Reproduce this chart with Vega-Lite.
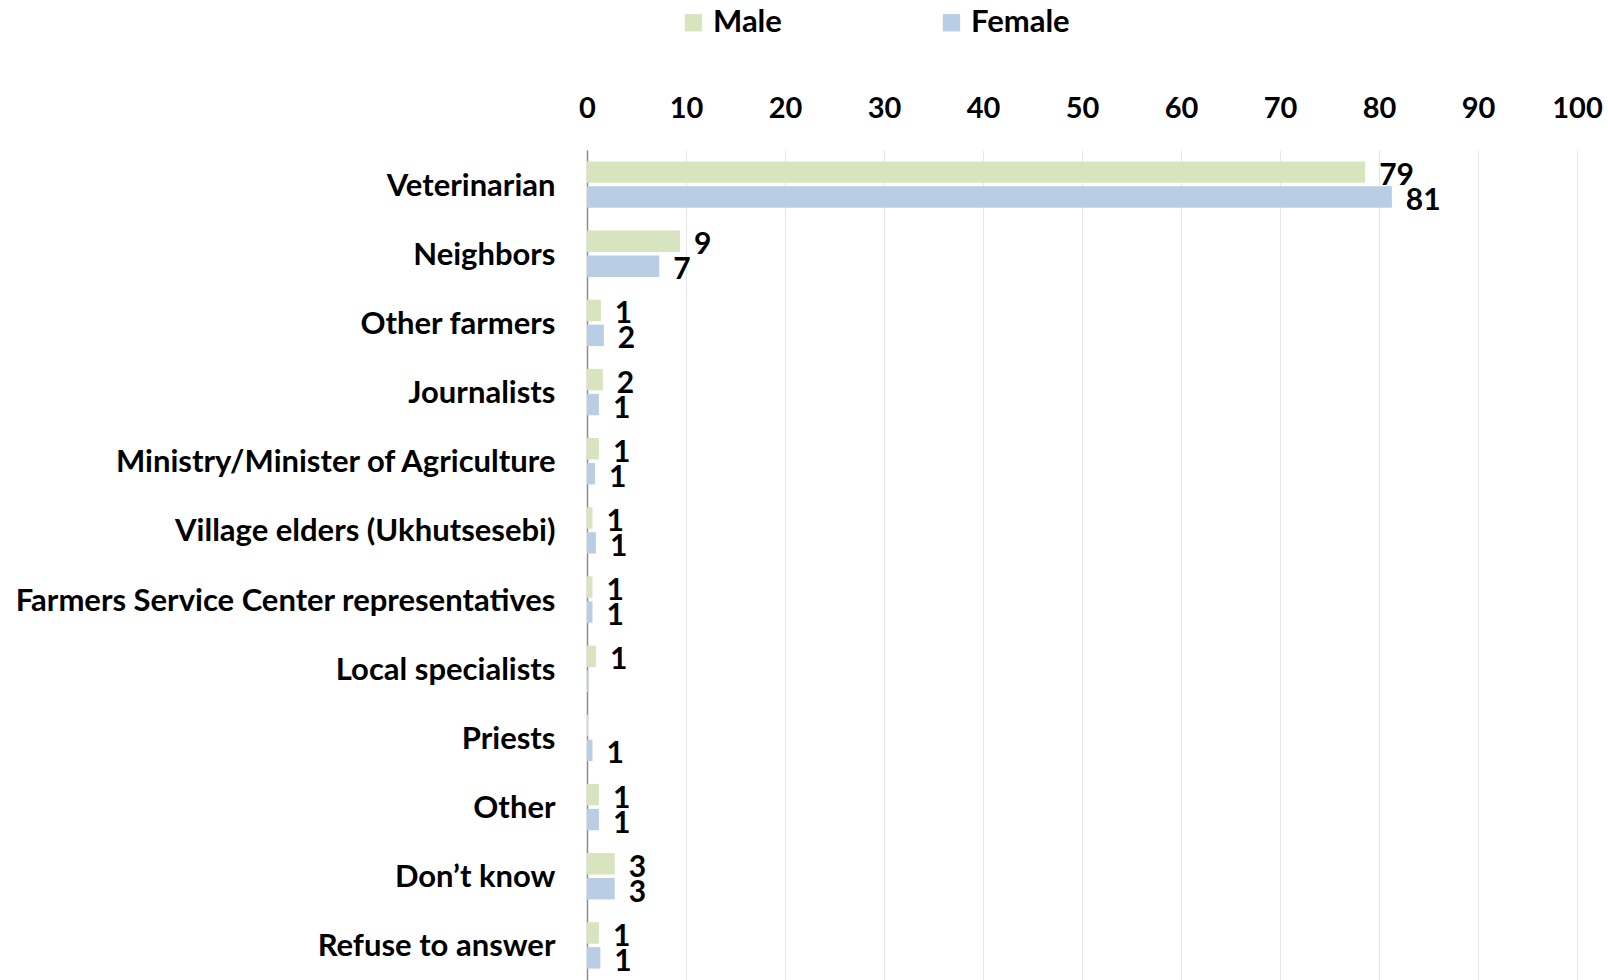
{
  "$schema": "https://vega.github.io/schema/vega-lite/v6.json",
  "width": 990,
  "height": 830,
  "autosize": {"type": "none"},
  "padding": {"left": 587, "top": 150, "right": 31, "bottom": 0},
  "background": "white",
  "config": {
    "view": {"stroke": null},
    "font": "Lato",
    "axis": {"labelFont": "Lato", "labelFontWeight": "bold", "labelColor": "#000000"}
  },
  "data": {
    "values": [
      {"source": "Veterinarian", "gender": "Male", "value": 78.6},
      {"source": "Veterinarian", "gender": "Female", "value": 81.3},
      {"source": "Neighbors", "gender": "Male", "value": 9.4},
      {"source": "Neighbors", "gender": "Female", "value": 7.3},
      {"source": "Other farmers", "gender": "Male", "value": 1.4},
      {"source": "Other farmers", "gender": "Female", "value": 1.7},
      {"source": "Journalists", "gender": "Male", "value": 1.6},
      {"source": "Journalists", "gender": "Female", "value": 1.2},
      {"source": "Ministry/Minister of Agriculture", "gender": "Male", "value": 1.2},
      {"source": "Ministry/Minister of Agriculture", "gender": "Female", "value": 0.8},
      {"source": "Village elders (Ukhutsesebi)", "gender": "Male", "value": 0.55},
      {"source": "Village elders (Ukhutsesebi)", "gender": "Female", "value": 0.9},
      {"source": "Farmers Service Center representatives", "gender": "Male", "value": 0.55},
      {"source": "Farmers Service Center representatives", "gender": "Female", "value": 0.55},
      {"source": "Local specialists", "gender": "Male", "value": 0.9},
      {"source": "Local specialists", "gender": "Female", "value": 0.15},
      {"source": "Priests", "gender": "Male", "value": 0.1},
      {"source": "Priests", "gender": "Female", "value": 0.55},
      {"source": "Other", "gender": "Male", "value": 1.2},
      {"source": "Other", "gender": "Female", "value": 1.2},
      {"source": "Don’t know", "gender": "Male", "value": 2.8},
      {"source": "Don’t know", "gender": "Female", "value": 2.8},
      {"source": "Refuse to answer", "gender": "Male", "value": 1.2},
      {"source": "Refuse to answer", "gender": "Female", "value": 1.35}
    ]
  },
  "encoding": {
    "y": {
      "field": "source",
      "type": "nominal",
      "sort": null,
      "scale": {"paddingInner": 0.33, "paddingOuter": 0.165},
      "axis": {
        "title": null,
        "ticks": false,
        "domain": true,
        "domainColor": "#8c8c8c",
        "domainWidth": 1.5,
        "labelFontSize": 31,
        "labelPadding": 32,
        "labelOffset": 2,
        "labelLimit": 700
      }
    },
    "yOffset": {
      "field": "gender",
      "type": "nominal",
      "scale": {"domain": ["Male", "Female"], "paddingInner": 0.14}
    },
    "x": {
      "field": "value",
      "type": "quantitative",
      "scale": {"domain": [0, 100], "nice": false},
      "axis": {
        "orient": "top",
        "title": null,
        "values": [0, 10, 20, 30, 40, 50, 60, 70, 80, 90, 100],
        "domain": false,
        "ticks": false,
        "grid": true,
        "gridColor": "#e6e6e6",
        "gridWidth": 1,
        "labelFontSize": 29,
        "labelPadding": 27,
        "labelFlush": false,
        "labelBound": false,
        "labelOverlap": false
      }
    }
  },
  "layer": [
    {
      "mark": {"type": "bar"},
      "encoding": {
        "color": {
          "field": "gender",
          "type": "nominal",
          "scale": {"domain": ["Male", "Female"], "range": ["#d7e4bd", "#b9cde5"]},
          "legend": {
            "title": null,
            "orient": "none",
            "legendX": 91,
            "legendY": -143,
            "direction": "horizontal",
            "symbolType": "square",
            "symbolSize": 300,
            "symbolStrokeWidth": 0,
            "labelFont": "Lato",
            "labelFontWeight": "bold",
            "labelFontSize": 31,
            "labelColor": "#000000",
            "labelOffset": 4,
            "columnPadding": 154
          }
        }
      }
    },
    {
      "transform": [{"filter": "datum.value >= 0.5"}],
      "mark": {
        "type": "text",
        "align": "left",
        "baseline": "middle",
        "dx": 14,
        "dy": 4,
        "font": "Lato",
        "fontWeight": "bold",
        "fontSize": 30,
        "color": "#000000"
      },
      "encoding": {
        "text": {"field": "value", "type": "quantitative", "format": ".0f"}
      }
    }
  ]
}
